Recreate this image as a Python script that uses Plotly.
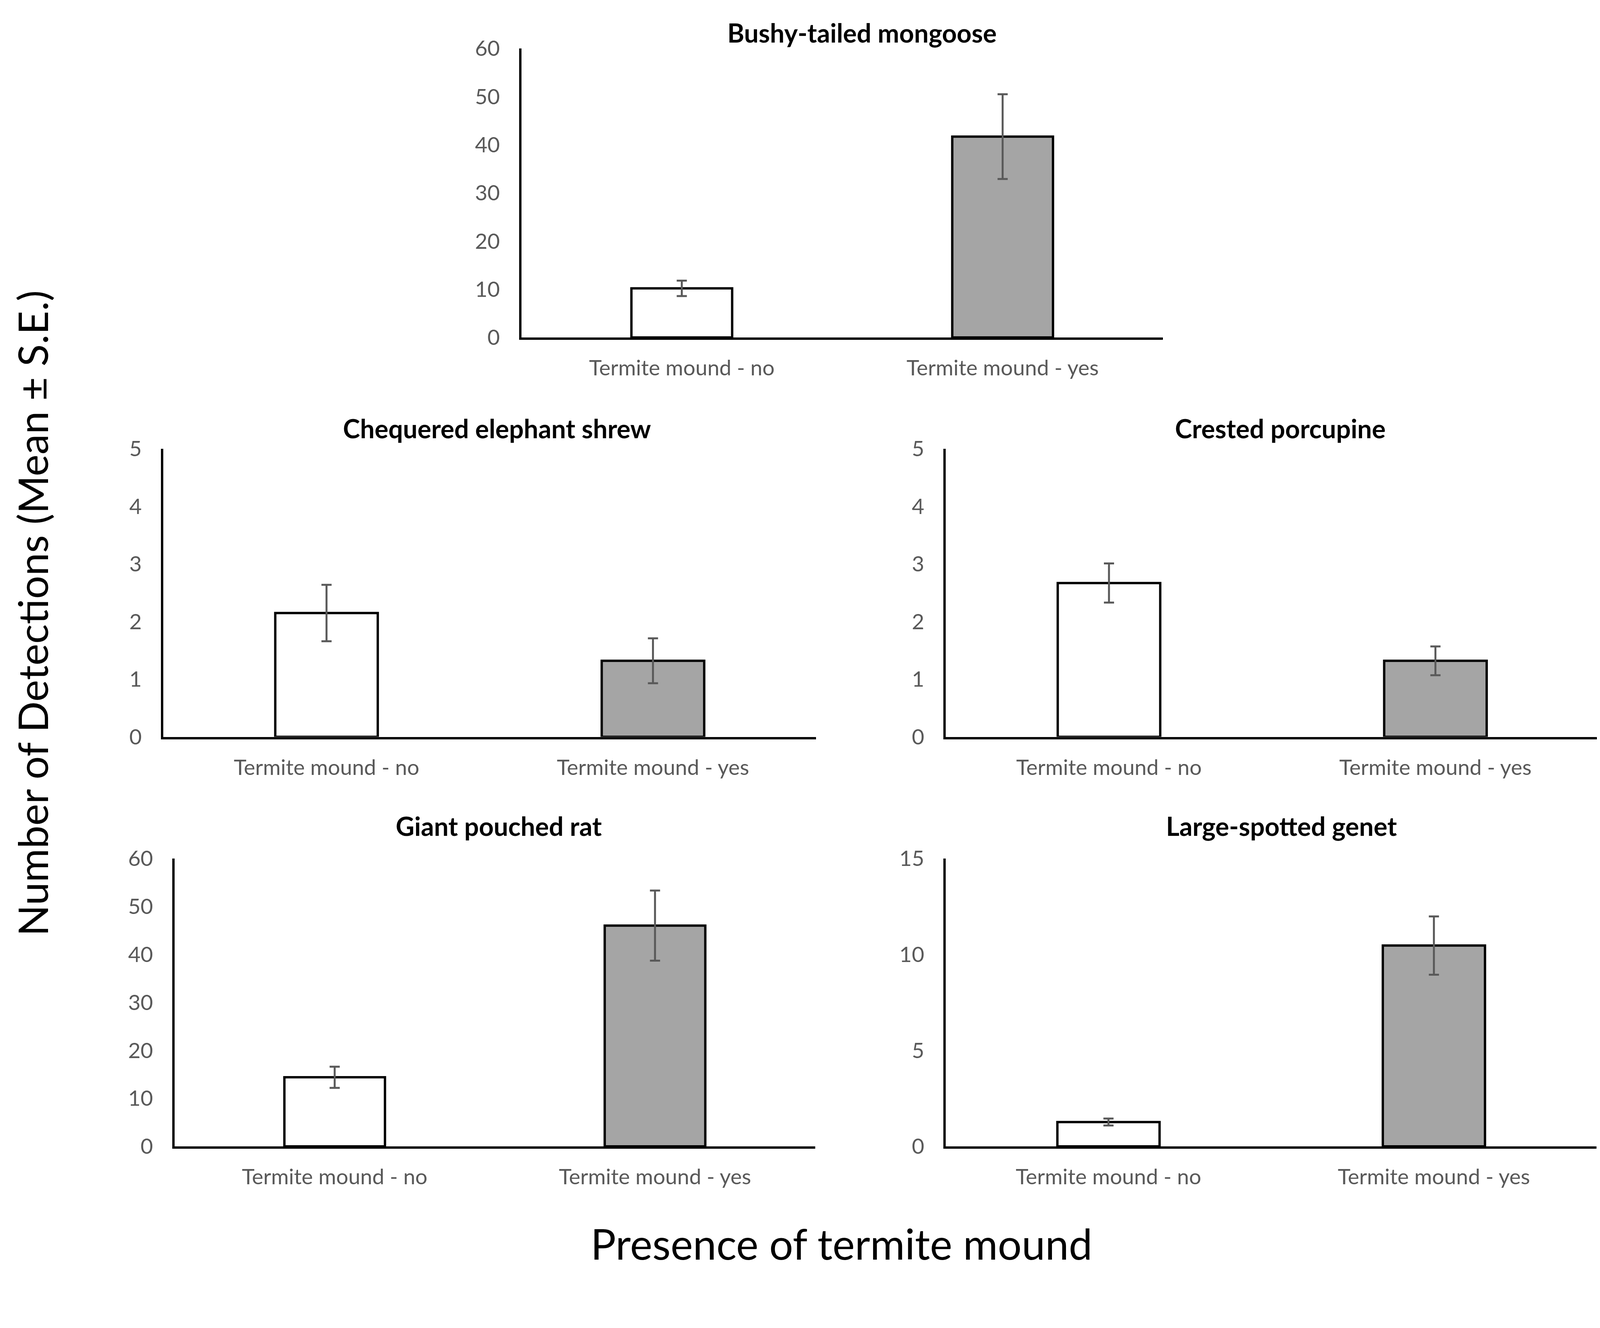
import plotly.graph_objects as go

# categories and values (mean and standard error)
categories = ["Termite mound - no", "Termite mound - yes"]
species = ["Bushy-tailed mongoose", "Chequered elephant shrew", "Crested porcupine",
           "Giant pouched rat", "Large-spotted genet"]

mongoose_mean = [10.2, 41.7]
mongoose_se = [1.6, 8.8]
shrew_mean = [2.15, 1.32]
shrew_se = [0.49, 0.39]
porcupine_mean = [2.67, 1.32]
porcupine_se = [0.34, 0.25]
rat_mean = [14.4, 46.0]
rat_se = [2.2, 7.3]
genet_mean = [1.27, 10.46]
genet_se = [0.18, 1.52]

y_max = [60, 5, 5, 60, 15]
y_step = [10, 1, 1, 10, 5]

means = [mongoose_mean, shrew_mean, porcupine_mean, rat_mean, genet_mean]
ses = [mongoose_se, shrew_se, porcupine_se, rat_se, genet_se]

W, H = 4317, 3400


# positions were measured on a reduced copy of the reference,
# these map them onto the figure as it ends up in the screenshot
def px(x):
    return x / 1653.0


def py(y):
    return 1 - (y - 17) / 1275.0


# (x0, x1, y_top, y_zero, title_x, title_y) in reference coordinates
panels = [
    (508, 1137, 48, 331, 842, 14),
    (157, 797, 440, 722, 484, 420),
    (924, 1564, 440, 722, 1252, 420),
    (168, 796, 841, 1123, 486, 809),
    (924, 1562, 841, 1123, 1253, 809),
]

bar_colors = ["white", "#A5A5A5"]
font = "Lato, 'Open Sans', sans-serif"
grey = "#595959"

fig = go.Figure()
annotations = []
layout = {}

for i, (x0, x1, yt, yz, tx, ty) in enumerate(panels):
    n = "" if i == 0 else str(i + 1)
    fig.add_trace(go.Bar(
        x=categories, y=means[i],
        marker=dict(color=bar_colors, line=dict(color="black", width=6)),
        error_y=dict(type="data", array=ses[i], color=grey, thickness=5, width=13),
        xaxis="x" + n, yaxis="y" + n, showlegend=False,
    ))
    layout["xaxis" + n] = dict(
        domain=[px(x0), px(x1)], anchor="y" + n,
        showline=True, linecolor="black", linewidth=6,
        showgrid=False, zeroline=False, ticks="",
        tickfont=dict(family=font, size=55, color=grey),
        ticklabelstandoff=25,
    )
    layout["yaxis" + n] = dict(
        domain=[py(yz), py(yt)], anchor="x" + n,
        range=[0, y_max[i]], dtick=y_step[i], tick0=0,
        showline=True, linecolor="black", linewidth=6,
        showgrid=False, zeroline=False, ticks="",
        tickfont=dict(family=font, size=55, color=grey),
        ticklabelstandoff=38,
    )
    title_y = min(py(ty), 1.0)
    annotations.append(dict(
        text="<b>" + species[i] + "</b>", x=px(tx), y=title_y,
        xref="paper", yref="paper", xanchor="center",
        yanchor="top" if title_y >= 1.0 else "middle",
        borderpad=0,
        showarrow=False, font=dict(family=font, size=66, color="black"),
    ))

annotations.append(dict(
    text="Number of Detections (Mean ± S.E.)", x=0.002, y=py(601),
    xref="paper", yref="paper", xanchor="left", yanchor="middle",
    textangle=-90, showarrow=False, font=dict(family=font, size=105, color="black"),
))
annotations.append(dict(
    text="Presence of termite mound", x=px(822), y=py(1218),
    xref="paper", yref="paper", xanchor="center", yanchor="middle",
    showarrow=False, font=dict(family=font, size=108, color="black"),
))

fig.update_layout(
    width=W, height=H,
    margin=dict(l=0, r=0, t=0, b=0),
    paper_bgcolor="white", plot_bgcolor="white",
    bargap=0.686,
    annotations=annotations,
    **layout,
)

fig.write_html("out.html")
